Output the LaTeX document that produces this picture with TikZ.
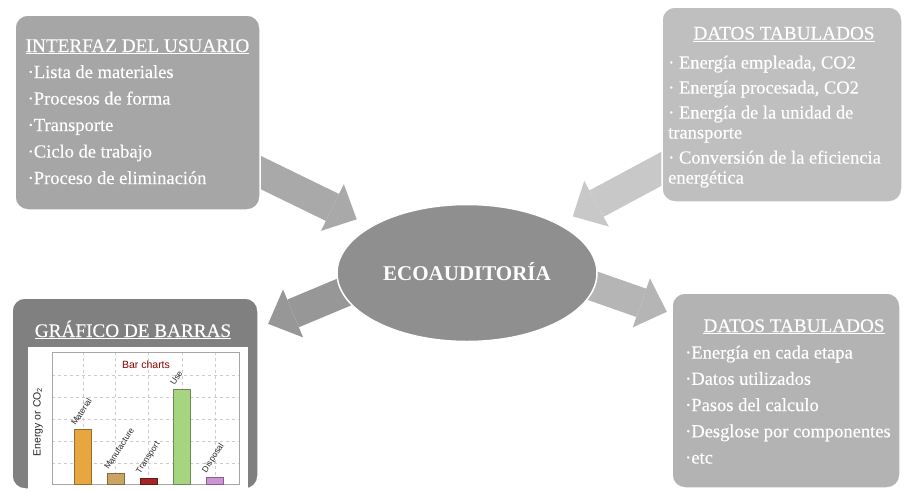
\documentclass[tikz,border=0pt]{standalone}
\usepackage{fontspec}
\setmainfont{Liberation Serif}
\setsansfont{Liberation Sans}
\newfontfamily\boxfont{Liberation Serif}[FakeBold=0.35]
\usepackage{tikz}
\usetikzlibrary{positioning,arrows.meta,shapes.geometric,backgrounds}

\definecolor{uigray}{HTML}{A6A6A6}
\definecolor{dtgray}{HTML}{BFBFBF}
\definecolor{gbgray}{HTML}{808080}
\definecolor{brgray}{HTML}{B3B3B3}
\definecolor{ecogray}{HTML}{8F8F8F}
\definecolor{arrA}{HTML}{A9A9A9}
\definecolor{arrB}{HTML}{C8C8C8}
\definecolor{arrC}{HTML}{979797}
\definecolor{arrD}{HTML}{B5B5B5}
\definecolor{barMat}{HTML}{E8A63E}
\definecolor{barMan}{HTML}{C9A462}
\definecolor{barTra}{HTML}{A52424}
\definecolor{barUse}{HTML}{A7D480}
\definecolor{barDis}{HTML}{CC94D4}

\begin{document}
\begin{tikzpicture}[x=1pt, y=-1pt,
  panel/.style={draw=white, line width=1.5pt, rounded corners=13pt, inner sep=0pt, outer sep=0pt},
  tit/.style={text=white, font=\boxfont\fontsize{19.2}{22}\selectfont, inner sep=0pt, anchor=base},
  lst/.style={text=white, font=\boxfont\fontsize{18.5}{26.5}\selectfont, align=left, inner sep=0pt, anchor=north west},
  fatarr/.style={line width=30pt, -{Triangle[length=27pt, width=52pt, line width=0pt]}},
  gridln/.style={draw=gray!40, dashed, line width=0.6pt},
  barlab/.style={font=\sffamily\fontsize{8.5}{8.5}\selectfont, text=gray!35!black, rotate=57, anchor=south west, inner sep=0.5pt}]
\useasboundingbox (0,0) rectangle (904,490);

\node[panel, fill=uigray, minimum width=245pt, minimum height=195pt] (ui) at (137.5,112.5) {};
\node[panel, fill=dtgray, minimum width=240pt, minimum height=195pt] (dt) at (782,104.5) {};
\node[panel, fill=gbgray, minimum width=246pt, minimum height=191pt] (gb) at (135,393.5) {};
\node[panel, fill=brgray, minimum width=228pt, minimum height=195pt] (br) at (786,390.5) {};
\node[ellipse, draw=white, line width=1.5pt, fill=ecogray, minimum width=260pt, minimum height=137pt,
  inner sep=0pt, outer sep=0pt, text=white, text height=15pt, text depth=0pt,
  font=\bfseries\fontsize{21}{24}\selectfont] (eco) at (467,273) {ECOAUDITORÍA};

\begin{scope}[on background layer]
\draw[fatarr, draw=arrA, fill=arrA, shorten <=-12pt, shorten >=16.5pt] (ui) -- (eco);
\draw[fatarr, draw=arrB, fill=arrB, shorten <=-12pt, shorten >=16.5pt] (dt) -- (eco);
\draw[fatarr, draw=arrC, fill=arrC, shorten <=-14pt, shorten >=11pt] (eco.189) -- (gb.28);
\draw[fatarr, draw=arrD, fill=arrD, shorten <=-14pt, shorten >=5.5pt] (eco.-6) -- (br.146.5);
\end{scope}

\node[tit] (uit) at (137.5,52) {\underline{INTERFAZ DEL USUARIO}};
\node[lst] (uil) at (27.5,65) {·Lista de materiales\\·Procesos de forma\\·Transporte\\·Ciclo de trabajo\\·Proceso de eliminación};

\node[tit] (dtt) at (784,39.5) {\underline{DATOS TABULADOS}};
\node[lst, font=\boxfont\fontsize{18.5}{25}\selectfont] (dtl) at (668,55.5) {· Energía empleada, CO2\\· Energía procesada, CO2\\· Energía de la unidad de\\[-5pt]transporte\\· Conversión de la eficiencia\\[-5pt]energética};

\node[tit] (brt) at (794,332) {\underline{DATOS TABULADOS}};
\node[lst, font=\boxfont\fontsize{18.5}{26.25}\selectfont] (brl) at (685,345.5) {·Energía en cada etapa\\·Datos utilizados\\·Pasos del calculo\\·Desglose por componentes\\·etc};

\node[tit] (gbt) at (133,337) {\underline{GRÁFICO DE BARRAS}};
\fill[white] (28,347) rectangle (248,492);
\foreach \gy in {375,397,419,441,463} \draw[gridln] (52,\gy) -- (239,\gy);
\foreach \gx in {83,115,148,182,215} \draw[gridln] (\gx,352) -- (\gx,484);
\draw[gray!70, line width=0.7pt] (52,352) rectangle (239,484);
\foreach \bx/\bt/\bc in {74/429/barMat, 107/473/barMan, 140/478/barTra, 173/389/barUse, 206/477/barDis}
  \draw[draw=\bc!65!black, fill=\bc, line width=0.8pt] (\bx,\bt) rectangle ({\bx+17},484);
\node[font=\sffamily\fontsize{10.5}{12}\selectfont, text=red!55!black] (bct) at (146,365) {Bar charts};
\node[font=\sffamily\fontsize{10.5}{12}\selectfont, text=gray!30!black, rotate=90] (ylab) at (38,422) {Energy or CO\textsubscript{2}};
\node[barlab] (lmat) at (76,427) {Material};
\node[barlab] (lman) at (109,471) {Manufacture};
\node[barlab] (ltra) at (142,476) {Transport};
\node[barlab] (luse) at (175,387) {Use};
\node[barlab] (ldis) at (208,475) {Disposal};
\end{tikzpicture}
\end{document}
